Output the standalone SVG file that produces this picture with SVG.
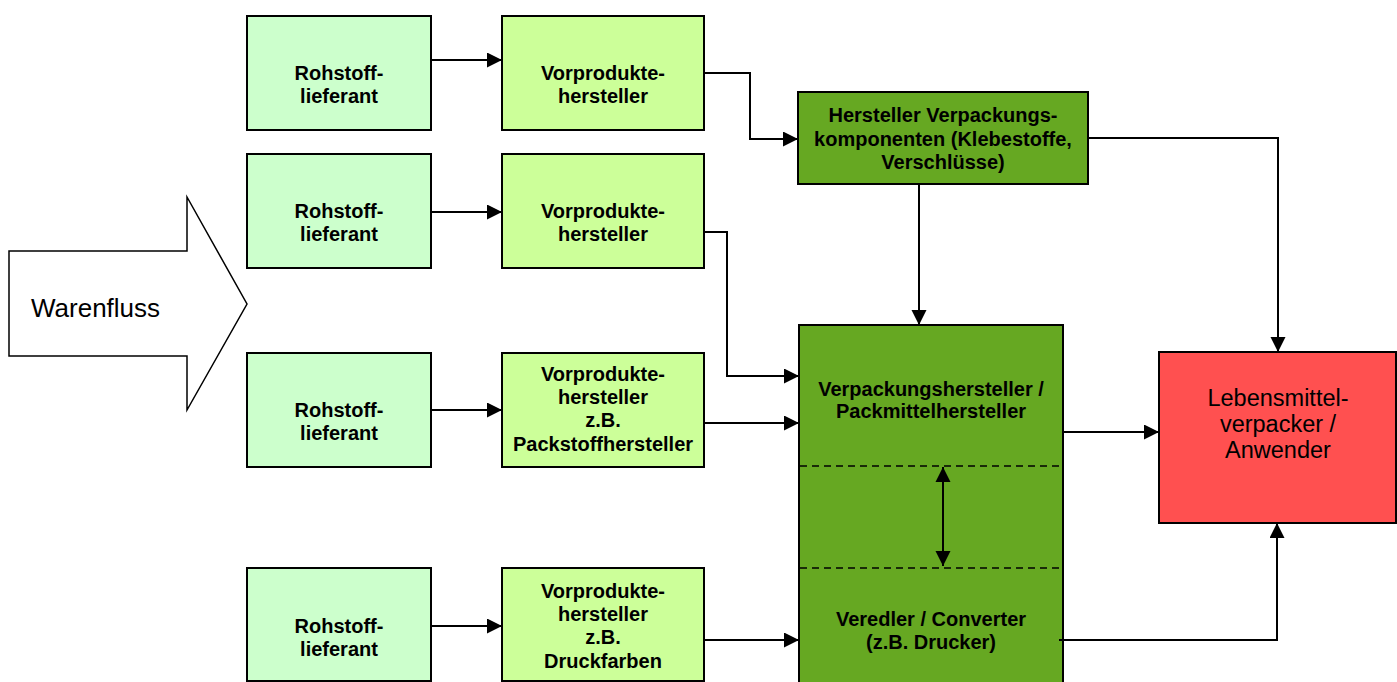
<svg xmlns="http://www.w3.org/2000/svg" width="1397" height="682" viewBox="0 0 1397 682">
<style>
.box{stroke:#000;stroke-width:2}
.roh{fill:#CCFFCC}
.vor{fill:#CCFF99}
.dg{fill:#66A822}
.red{fill:#FF5050}
.b{font-family:"Liberation Sans",Arial,sans-serif;font-weight:bold;font-size:20px;text-anchor:middle;fill:#000}
.n{font-family:"Liberation Sans",Arial,sans-serif;font-size:23.5px;text-anchor:middle;fill:#000}
.c{fill:none;stroke:#000;stroke-width:2}
.d{fill:none;stroke:#000;stroke-width:1.5;stroke-dasharray:7 5}
</style>
<defs>
<marker id="ah" markerUnits="userSpaceOnUse" markerWidth="16" markerHeight="16" refX="15" refY="7.5" orient="auto">
<path d="M0,0 L15,7.5 L0,15 z" fill="#000"/>
</marker>
<marker id="ahs" markerUnits="userSpaceOnUse" markerWidth="16" markerHeight="16" refX="0" refY="7.5" orient="auto">
<path d="M15,0 L0,7.5 L15,15 z" fill="#000"/>
</marker>
</defs>

<g id="warenfluss">
<polygon points="9,251 187,251 187,197 247,304 187,410 187,356 9,356" fill="#fff" stroke="#000" stroke-width="1.5"/>
<text x="31" y="317" font-family="Liberation Sans, Arial, sans-serif" font-size="26">Warenfluss</text>
</g>

<g id="roh1"><rect class="box roh" x="247" y="16" width="184" height="114"/><text class="b" x="339" y="80">Rohstoff-</text><text class="b" x="339" y="103">lieferant</text></g>
<g id="roh2"><rect class="box roh" x="247" y="154" width="184" height="114"/><text class="b" x="339" y="218">Rohstoff-</text><text class="b" x="339" y="241">lieferant</text></g>
<g id="roh3"><rect class="box roh" x="247" y="353" width="184" height="114"/><text class="b" x="339" y="417">Rohstoff-</text><text class="b" x="339" y="440">lieferant</text></g>
<g id="roh4"><rect class="box roh" x="247" y="568" width="184" height="113"/><text class="b" x="339" y="633">Rohstoff-</text><text class="b" x="339" y="656">lieferant</text></g>

<g id="vor1"><rect class="box vor" x="502" y="16" width="202" height="114"/><text class="b" x="603" y="80">Vorprodukte-</text><text class="b" x="603" y="103">hersteller</text></g>
<g id="vor2"><rect class="box vor" x="502" y="154" width="202" height="114"/><text class="b" x="603" y="218">Vorprodukte-</text><text class="b" x="603" y="241">hersteller</text></g>
<g id="vor3"><rect class="box vor" x="502" y="353" width="202" height="114"/><text class="b" x="603" y="381">Vorprodukte-</text><text class="b" x="603" y="404">hersteller</text><text class="b" x="603" y="427">z.B.</text><text class="b" x="603" y="451">Packstoffhersteller</text></g>
<g id="vor4"><rect class="box vor" x="502" y="568" width="202" height="113"/><text class="b" x="603" y="598">Vorprodukte-</text><text class="b" x="603" y="621">hersteller</text><text class="b" x="603" y="644">z.B.</text><text class="b" x="603" y="668">Druckfarben</text></g>

<g id="komponenten"><rect class="box dg" x="798" y="92" width="290" height="92"/><text class="b" x="943" y="122">Hersteller Verpackungs-</text><text class="b" x="943" y="146">komponenten (Klebestoffe,</text><text class="b" x="943" y="169">Verschlüsse)</text></g>

<g id="verpackungshersteller">
<rect class="box dg" x="799" y="325" width="264" height="370"/>
<text class="b" x="931" y="396">Verpackungshersteller /</text><text class="b" x="931" y="418">Packmittelhersteller</text>
<line class="d" x1="800" y1="466" x2="1062" y2="466"/>
<line class="d" x1="800" y1="568" x2="1062" y2="568"/>
<text class="b" x="931" y="626">Veredler / Converter</text><text class="b" x="931" y="649">(z.B. Drucker)</text>
</g>

<g id="anwender"><rect class="box red" x="1159" y="352" width="237" height="171"/><text class="n" x="1278" y="406">Lebensmittel-</text><text class="n" x="1278" y="432">verpacker /</text><text class="n" x="1278" y="458">Anwender</text></g>

<g id="connectors">
<path class="c" d="M431,60 H502" marker-end="url(#ah)"/>
<path class="c" d="M431,212 H502" marker-end="url(#ah)"/>
<path class="c" d="M431,410 H502" marker-end="url(#ah)"/>
<path class="c" d="M431,626 H502" marker-end="url(#ah)"/>
<path class="c" d="M704,73 H750 V139 H798" marker-end="url(#ah)"/>
<path class="c" d="M704,232 H727 V376 H799" marker-end="url(#ah)"/>
<path class="c" d="M704,423 H799" marker-end="url(#ah)"/>
<path class="c" d="M704,640 H799" marker-end="url(#ah)"/>
<path class="c" d="M919,184 V325" marker-end="url(#ah)"/>
<path class="c" d="M1088,138 H1278 V352" marker-end="url(#ah)"/>
<path class="c" d="M1063,432 H1159" marker-end="url(#ah)"/>
<path class="c" d="M1059,640 H1277 V523" marker-end="url(#ah)"/>
<path class="c" d="M943,467 V566" marker-start="url(#ahs)" marker-end="url(#ah)"/>
</g>
</svg>
